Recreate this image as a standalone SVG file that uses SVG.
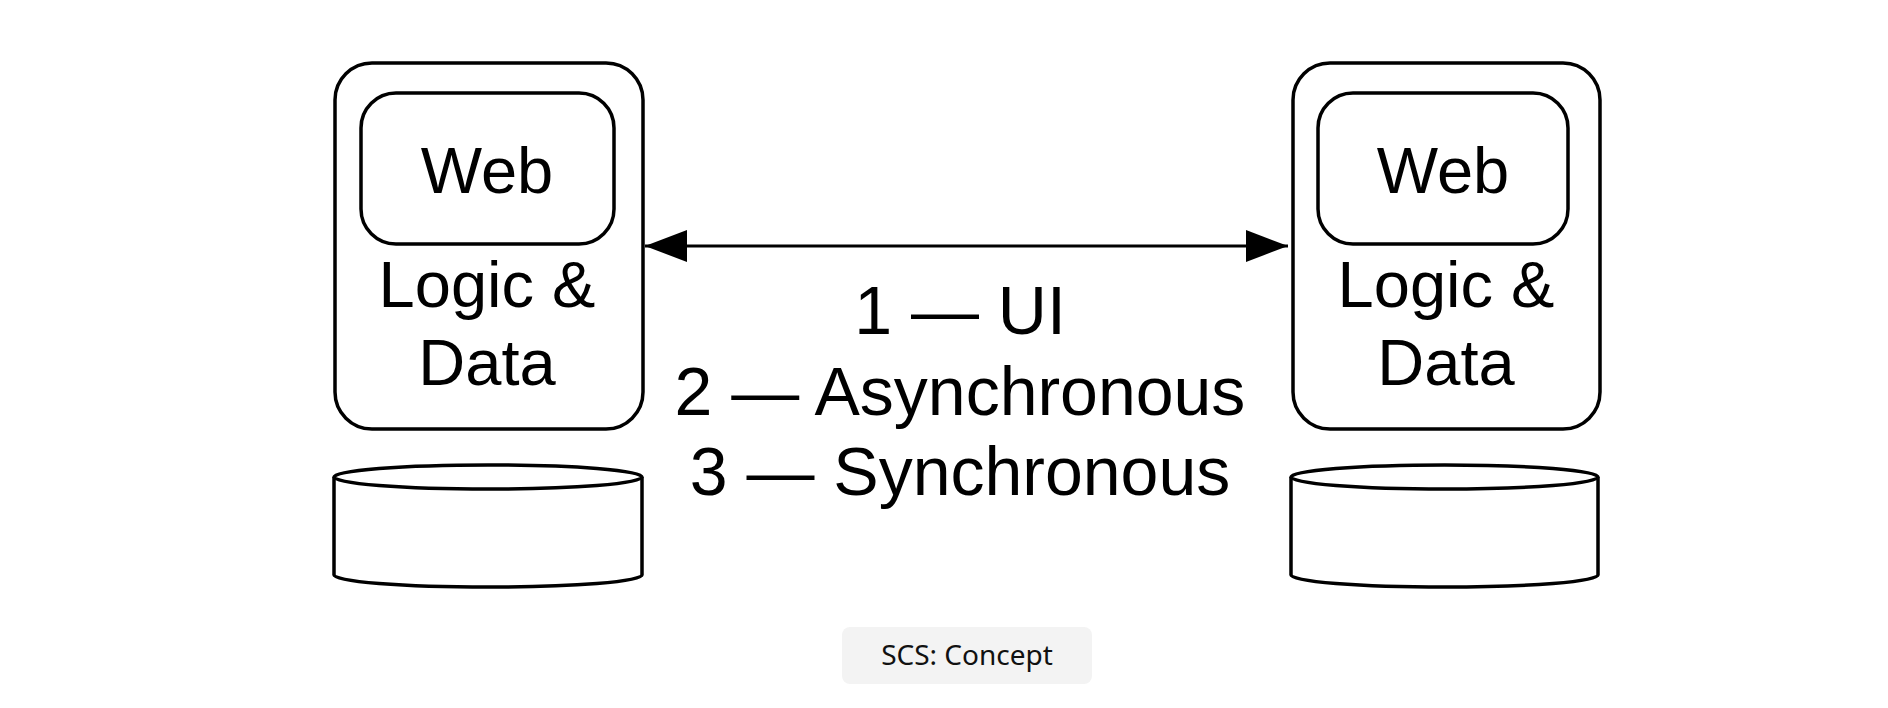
<svg xmlns="http://www.w3.org/2000/svg" width="1888" height="708" viewBox="0 0 1888 708">
<style>
.box{fill:#fff;stroke:#000;stroke-width:3.5}
.cyl{fill:#fff;stroke:#000;stroke-width:3.5}
.big{font-family:"Liberation Sans",Arial,sans-serif;font-size:65px;fill:#000;text-anchor:middle}
.mid{font-family:"Liberation Sans",Arial,sans-serif;font-size:68px;fill:#000;text-anchor:middle}
.cap{font-family:"Noto Sans","Open Sans",sans-serif;font-size:28px;fill:#111;text-anchor:middle}
.conn{stroke:#000;stroke-width:3;fill:none}
</style>
<defs>
<marker id="ah" viewBox="0 0 42 32" refX="42" refY="16" markerWidth="42" markerHeight="32" markerUnits="userSpaceOnUse" orient="auto-start-reverse">
<path d="M0,0 L42,16 L0,32 Z" fill="#000"/>
</marker>
</defs>
<rect width="1888" height="708" fill="#fff"/>
<g id="left-service">
<rect class="box" x="335" y="63" width="308" height="366" rx="37"/>
<rect class="box" x="361" y="93" width="253" height="151" rx="35"/>
<text class="big" x="487" y="193">Web</text>
<text class="big" x="487" y="307">Logic &amp;</text>
<text class="big" x="487" y="385">Data</text>
</g>
<g id="left-db">
<path class="cyl" d="M334,477 L334,575 A154,12 0 0 0 642,575 L642,477"/>
<ellipse class="cyl" cx="488" cy="477" rx="154" ry="12"/>
</g>
<g id="right-service">
<rect class="box" x="1293" y="63" width="307" height="366" rx="37"/>
<rect class="box" x="1318" y="93" width="250" height="151" rx="35"/>
<text class="big" x="1443" y="193">Web</text>
<text class="big" x="1446" y="307">Logic &amp;</text>
<text class="big" x="1446" y="385">Data</text>
</g>
<g id="right-db">
<path class="cyl" d="M1291,477 L1291,575 A153.5,12 0 0 0 1598,575 L1598,477"/>
<ellipse class="cyl" cx="1444.5" cy="477" rx="153.5" ry="12"/>
</g>
<g id="connectors">
<line class="conn" x1="645" y1="246" x2="1288" y2="246" marker-start="url(#ah)" marker-end="url(#ah)"/>
</g>
<g id="connector-label">
<text class="mid" x="960" y="334">1 — UI</text>
<text class="mid" x="960" y="415">2 — Asynchronous</text>
<text class="mid" x="960" y="495">3 — Synchronous</text>
</g>
<g id="caption">
<rect x="842" y="627" width="250" height="57" rx="8" fill="#f3f3f3"/>
<text class="cap" x="967" y="665">SCS: Concept</text>
</g>
</svg>
